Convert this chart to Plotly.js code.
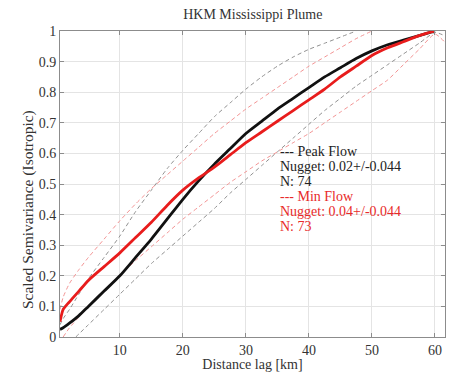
<!DOCTYPE html>
<html>
<head>
<meta charset="utf-8">
<script src="https://cdn.plot.ly/plotly-3.0.1.min.js"></script>
<style>html,body{margin:0;padding:0;background:#fff;}#chart{width:449px;height:372px;}</style>
</head>
<body>
<div id="chart"></div>
<script>
// Distance lag (km)
const distKm   = [0.5, 1, 2, 3.5, 5, 7.5, 10, 12.5, 15, 17.5, 20, 22.5, 25, 27.5, 30, 32.5, 35, 37.5, 40, 42.5, 45, 47.5, 50, 52.5, 55, 57.5, 60];
// Peak flow (black) scaled semivariance
const peakFlow = [0.025, 0.03, 0.045, 0.07, 0.10, 0.15, 0.20, 0.26, 0.32, 0.385, 0.45, 0.51, 0.565, 0.615, 0.665, 0.705, 0.745, 0.78, 0.815, 0.85, 0.88, 0.91, 0.935, 0.955, 0.97, 0.985, 1.0];
// Min flow (red) scaled semivariance
const minFlow  = [0.05, 0.09, 0.115, 0.15, 0.185, 0.23, 0.275, 0.325, 0.375, 0.43, 0.48, 0.52, 0.555, 0.595, 0.635, 0.67, 0.705, 0.74, 0.775, 0.81, 0.85, 0.885, 0.92, 0.945, 0.965, 0.985, 1.0];

// Envelopes (dashed)
const peakUpperX = [0.5, 1, 2, 3.5, 5, 7.5, 10, 12.5, 15, 17.5, 20, 22.5, 25, 27.5, 30, 32.5, 35, 37.5, 40, 42.5, 45, 47.5];
const peakUpper  = [0.04, 0.06, 0.09, 0.14, 0.19, 0.26, 0.33, 0.41, 0.48, 0.55, 0.61, 0.665, 0.72, 0.765, 0.81, 0.85, 0.885, 0.915, 0.94, 0.96, 0.98, 1.0];
const minUpperX  = [0.5, 1, 2, 3.5, 5, 7.5, 10, 12.5, 15, 17.5, 20, 22.5, 25, 27.5, 30, 32.5, 35, 37.5, 40, 42.5, 45, 47.5, 50];
const minUpper   = [0.09, 0.13, 0.175, 0.22, 0.26, 0.32, 0.38, 0.435, 0.485, 0.53, 0.575, 0.62, 0.665, 0.705, 0.745, 0.78, 0.815, 0.85, 0.885, 0.915, 0.945, 0.975, 1.0];
const peakLowerX = [3, 3.5, 5, 7.5, 10, 12.5, 15, 17.5, 20, 22.5, 25, 27.5, 30, 32.5, 35, 37.5, 40, 42.5, 45, 47.5, 50, 52.5, 55, 57.5, 60, 61.5];
const peakLower  = [0.0, 0.01, 0.04, 0.09, 0.14, 0.19, 0.24, 0.285, 0.33, 0.375, 0.42, 0.47, 0.515, 0.56, 0.605, 0.65, 0.695, 0.74, 0.78, 0.82, 0.855, 0.89, 0.925, 0.96, 0.995, 0.985];
const minLowerX  = [1, 2, 3.5, 5, 7.5, 10, 12.5, 15, 17.5, 20, 22.5, 25, 27.5, 30, 32.5, 35, 37.5, 40, 42.5, 45, 47.5, 50, 52.5, 55, 57.5, 60, 61.5];
const minLower   = [0.0, 0.03, 0.065, 0.10, 0.15, 0.20, 0.25, 0.295, 0.34, 0.385, 0.425, 0.465, 0.505, 0.54, 0.575, 0.605, 0.635, 0.665, 0.70, 0.735, 0.77, 0.805, 0.84, 0.89, 0.94, 0.99, 0.965];

const xTicks = [10, 20, 30, 40, 50, 60];
const yTicks = [0, 0.1, 0.2, 0.3, 0.4, 0.5, 0.6, 0.7, 0.8, 0.9, 1];
const yTickText = ['0', '0.1', '0.2', '0.3', '0.4', '0.5', '0.6', '0.7', '0.8', '0.9', '1'];

const peakLabels = ['--- Peak Flow', 'Nugget: 0.02+/-0.044', 'N: 74'];
const minLabels  = ['--- Min Flow', 'Nugget: 0.04+/-0.044', 'N: 73'];
const yTitleText = 'Scaled Semivariance (Isotropic)';

const FONT = 'Times New Roman, Liberation Serif, Tinos, DejaVu Serif, serif';
const dashGray = {color: '#919191', width: 1, dash: '4px,3px', shape: 'spline', smoothing: 0.6};
const dashRed  = {color: '#f39494', width: 1, dash: '4px,3px', shape: 'spline', smoothing: 0.6};

const traces = [
  {x: peakUpperX, y: peakUpper, mode: 'lines', line: dashGray, hoverinfo: 'skip'},
  {x: peakLowerX, y: peakLower, mode: 'lines', line: dashGray, hoverinfo: 'skip'},
  {x: minUpperX, y: minUpper, mode: 'lines', line: dashRed, hoverinfo: 'skip'},
  {x: minLowerX, y: minLower, mode: 'lines', line: dashRed, hoverinfo: 'skip'},
  {x: distKm, y: peakFlow, mode: 'lines', name: 'Peak Flow', line: {color: '#111111', width: 2.8, shape: 'spline', smoothing: 0.6}},
  {x: distKm, y: minFlow, mode: 'lines', name: 'Min Flow', line: {color: '#e81c1c', width: 2.8, shape: 'spline', smoothing: 0.6}}
];

const annotations = [];
const lineGapPx = 15;
const plotH = 372 - 31 - 35;
peakLabels.concat(minLabels).forEach((t, i) => {
  annotations.push({
    xref: 'x', yref: 'y', x: 35.1, y: 0.637 - (i * lineGapPx) / plotH,
    xanchor: 'left', yanchor: 'top', showarrow: false, text: t,
    font: {family: FONT, size: 14, color: i < 3 ? '#222222' : '#e82a2a'}
  });
});
// y-axis title (placed as in the reference, slightly below the plot centre)
annotations.push({
  xref: 'paper', yref: 'paper', x: -0.083, y: 0.415, xanchor: 'center', yanchor: 'middle',
  textangle: -90, showarrow: false, text: yTitleText,
  font: {family: FONT, size: 15.5, color: '#333333'}
});

const axisCommon = {
  showline: true, mirror: 'ticks', linecolor: '#8c8c8c', linewidth: 1,
  showgrid: true, gridcolor: '#e4e4e4', gridwidth: 1,
  ticks: 'inside', ticklen: 4, tickcolor: '#8c8c8c',
  zeroline: false, tickfont: {family: FONT, size: 14, color: '#333333'}
};

const layout = {
  width: 449, height: 372,
  margin: {l: 60, r: 4, t: 31, b: 35},
  paper_bgcolor: '#ffffff', plot_bgcolor: '#ffffff',
  showlegend: false,
  font: {family: FONT},
  title: {text: 'HKM Mississippi Plume', font: {family: FONT, size: 14, color: '#333333'},
          x: 0.563, xanchor: 'center', y: 0.962, yanchor: 'middle', xref: 'container', yref: 'container'},
  xaxis: Object.assign({}, axisCommon, {
    range: [0.5, 61.6], tickvals: xTicks,
    title: {text: 'Distance lag [km]', font: {family: FONT, size: 14, color: '#333333'}, standoff: 1}
  }),
  yaxis: Object.assign({}, axisCommon, {
    range: [0, 1], tickvals: yTicks, ticktext: yTickText
  }),
  annotations: annotations
};

Plotly.newPlot('chart', traces, layout, {staticPlot: true, displayModeBar: false});
</script>
</body>
</html>
